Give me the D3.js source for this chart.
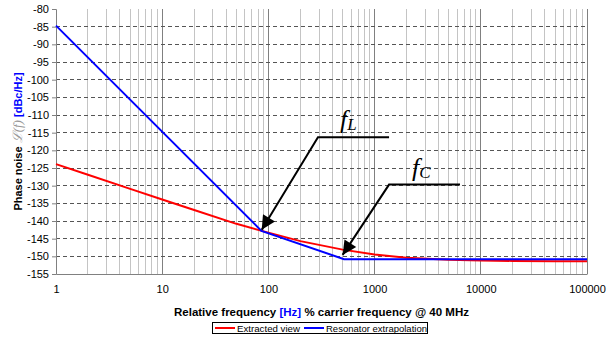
<!DOCTYPE html>
<html><head><meta charset="utf-8">
<script src="https://cdn.jsdelivr.net/npm/d3@7"></script>
<style>body{margin:0;background:#fff}svg{display:block;font-family:Arial,"Liberation Sans",sans-serif}</style>
</head><body><svg id="c" width="615" height="337"></svg>
<script>
// Data
const yTicks = [-80,-85,-90,-95,-100,-105,-110,-115,-120,-125,-130,-135,-140,-145,-150,-155];
const xTickLabels = [1,10,100,1000,10000,100000];
const redFreq = [1,2,5,10,20,50,100,200,500,1000,2000,5000,10000,20000,50000,100000];
const redDb   = [-123.9,-126.9,-130.9,-133.9,-136.9,-140.8,-143.3,-145.7,-148.1,-149.5,-150.4,-151.0,-151.2,-151.3,-151.4,-151.4];
const blueFreq = [1,86,515,100000];
const blueDb   = [-84.7,-142.8,-150.8,-150.8];
const annFreq = [[86.5,293,1368],[500,1368,6370]];     // tip, elbow, end
const annDb   = [[-142.5,-116.3,-116.3],[-149.6,-129.7,-129.7]];
const annLabelFreq = [472,2249];
const annLabelDb = [-113.7,-127.4];
const annSub = ["L","C"];
const seriesNames = ["Extracted view","Resonator extrapolation"];
const seriesColors = ["#ff0000","#0000ff"];

const svg = d3.select("#c");
const L=56, R=587, T=9, B=274;
const x = d3.scaleLog().domain([1,100000]).range([L,R]);
const y = d3.scaleLinear().domain([-155,-80]).range([B,T]);

const defs = svg.append("defs");
defs.append("marker").attr("id","ah").attr("viewBox","0 0 10 10").attr("refX",10).attr("refY",5)
  .attr("markerWidth",8).attr("markerHeight",7).attr("markerUnits","strokeWidth").attr("orient","auto")
  .append("path").attr("d","M0,0 L10,5 L0,10 z").attr("fill","#000");

// vertical grid
const minor=[];
for(let d=1; d<100000; d*=10) for(let k=2;k<=9;k++) minor.push(d*k);
svg.append("g").selectAll("line").data(minor).join("line")
  .attr("x1",d=>x(d)).attr("x2",d=>x(d)).attr("y1",T).attr("y2",B)
  .attr("stroke","#c4c4c4").attr("stroke-width",1).attr("shape-rendering","crispEdges");
svg.append("g").selectAll("line").data(xTickLabels.slice(1)).join("line")
  .attr("x1",d=>x(d)).attr("x2",d=>x(d)).attr("y1",T).attr("y2",B)
  .attr("stroke","#808080").attr("stroke-width",1).attr("shape-rendering","crispEdges");
// horizontal dashed grid
svg.append("g").selectAll("line").data(yTicks.filter(v=>v>-155 && v<-80)).join("line")
  .attr("x1",L).attr("x2",R).attr("y1",d=>y(d)).attr("y2",d=>y(d))
  .attr("stroke","#555").attr("stroke-dasharray","4,3").attr("stroke-width",1).attr("shape-rendering","crispEdges");

// axes
const yAxis = d3.axisLeft(y).tickValues(yTicks).tickSize(4).tickPadding(3).tickFormat(d=>d);
const gy = svg.append("g").attr("transform",`translate(${L},0)`).call(yAxis);
gy.select(".domain").attr("stroke","#808080");
gy.selectAll(".tick line").attr("stroke","#808080");
gy.selectAll("text").attr("font-size",11).attr("fill","#000").attr("font-family","Arial,'Liberation Sans',sans-serif");
const xAxis = d3.axisBottom(x).tickValues(xTickLabels).tickSize(0).tickPadding(11).tickFormat(d3.format("d"));
const gx = svg.append("g").attr("transform",`translate(0,${B})`).call(xAxis);
gx.select(".domain").attr("stroke","#808080");
gx.selectAll("text").attr("font-size",11).attr("fill","#000").attr("font-family","Arial,'Liberation Sans',sans-serif");

// series
const line = d3.line().x(d=>x(d[0])).y(d=>y(d[1]));
svg.append("path").datum(redFreq.map((f,i)=>[f,redDb[i]])).attr("d",line)
  .attr("fill","none").attr("stroke",seriesColors[0]).attr("stroke-width",2);
svg.append("path").datum(blueFreq.map((f,i)=>[f,blueDb[i]])).attr("d",line)
  .attr("fill","none").attr("stroke",seriesColors[1]).attr("stroke-width",2);

// annotations
annFreq.forEach((fs,i)=>{
  const pts = fs.map((f,j)=>[f,annDb[i][j]]).reverse(); // end -> elbow -> tip
  svg.append("path").datum(pts).attr("d",line).attr("fill","none").attr("stroke","#000")
    .attr("stroke-width",2).attr("marker-end","url(#ah)");
  const t = svg.append("text").attr("x",x(annLabelFreq[i])).attr("y",y(annLabelDb[i]))
    .attr("font-family","'Liberation Serif','DejaVu Serif',serif").attr("font-style","italic")
    .attr("font-size",26).attr("fill","#000");
  t.append("tspan").text("f");
  t.append("tspan").attr("font-size",17).attr("dy",2).text(annSub[i]);
});

// axis titles
const yt = svg.append("text").attr("transform",`translate(22,${(T+B)/2}) rotate(-90)`)
  .attr("text-anchor","middle").attr("font-size",11).attr("font-weight","bold");
yt.append("tspan").text("Phase noise ");
yt.append("tspan").attr("fill","#999").attr("font-weight","normal").attr("font-style","italic")
  .attr("font-family","'Liberation Serif',serif").attr("font-size",13).text("\u2112(f)");
yt.append("tspan").attr("fill","#0000ff").text(" [dBc/Hz]");

const xt = svg.append("text").attr("x",(L+R)/2).attr("y",316).attr("text-anchor","middle")
  .attr("font-size",11.5).attr("font-weight","bold");
xt.append("tspan").text("Relative frequency ");
xt.append("tspan").attr("fill","#0000ff").text("[Hz]");
xt.append("tspan").text(" % carrier frequency @ 40 MHz");

// legend
const lg = svg.append("g");
lg.append("rect").attr("x",212.5).attr("y",322.5).attr("width",215).attr("height",11)
  .attr("fill","#fff").attr("stroke","#000").attr("stroke-width",1);
const lx=[215,304];
const lw=[63,101];
seriesNames.forEach((n,i)=>{
  lg.append("line").attr("x1",lx[i]).attr("x2",lx[i]+20).attr("y1",328).attr("y2",328)
    .attr("stroke",seriesColors[i]).attr("stroke-width",2);
  lg.append("text").attr("x",lx[i]+22).attr("y",331.5).attr("font-size",9.5).attr("fill","#000")
    .attr("textLength",lw[i]).attr("lengthAdjust","spacingAndGlyphs").text(n);
});
</script></body></html>
